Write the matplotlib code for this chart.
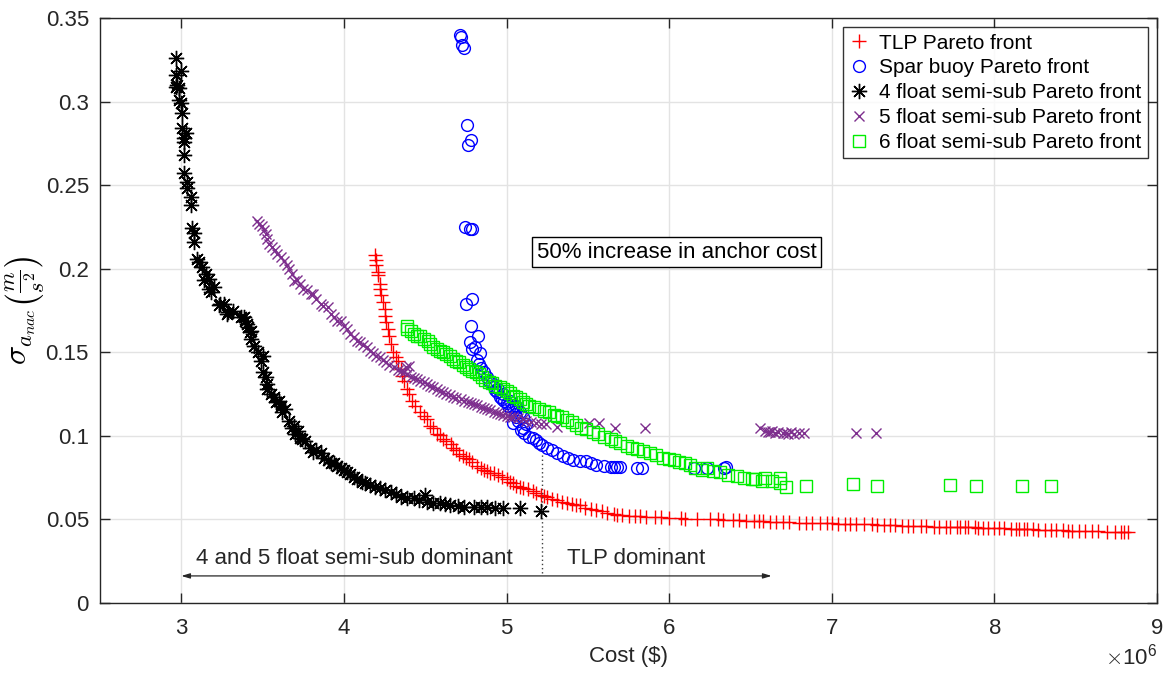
import matplotlib
matplotlib.use("Agg")
import matplotlib.pyplot as plt
from matplotlib.ticker import ScalarFormatter, FormatStrFormatter

plt.rcParams['font.family'] = ['Liberation Sans', 'DejaVu Sans']
plt.rcParams['mathtext.fontset'] = 'cm'

# ---------------- data (cost in millions of $, sigma in m/s^2) ----------------
tlp_cost = [4.19, 4.20, 4.20, 4.21, 4.21, 4.22, 4.22, 4.23, 4.24, 4.25,
            4.25, 4.26, 4.27, 4.28, 4.29, 4.30, 4.32, 4.33, 4.35, 4.36,
            4.37, 4.39, 4.40, 4.42, 4.44, 4.47, 4.49, 4.51, 4.53, 4.55,
            4.57, 4.59, 4.61, 4.63, 4.66, 4.67, 4.69, 4.71, 4.73, 4.75,
            4.77, 4.79, 4.82, 4.84, 4.86, 4.88, 4.90, 4.92, 4.95, 4.97,
            5.00, 5.02, 5.04, 5.06, 5.08, 5.10, 5.13, 5.16, 5.18, 5.21,
            5.23, 5.25, 5.28, 5.31, 5.34, 5.37, 5.40, 5.43, 5.45, 5.48,
            5.52, 5.55, 5.59, 5.62, 5.66, 5.68, 5.71, 5.75, 5.79, 5.82,
            5.86, 5.91, 5.95, 6.00, 6.07, 6.10, 6.17, 6.25, 6.30, 6.33,
            6.39, 6.43, 6.47, 6.52, 6.55, 6.58, 6.62, 6.66, 6.70, 6.74,
            6.80, 6.84, 6.88, 6.93, 6.97, 7.00, 7.04, 7.08, 7.11, 7.15,
            7.20, 7.25, 7.28, 7.32, 7.36, 7.39, 7.43, 7.47, 7.50, 7.55,
            7.58, 7.63, 7.66, 7.70, 7.73, 7.77, 7.79, 7.82, 7.84, 7.88,
            7.90, 7.93, 7.96, 8.00, 8.03, 8.06, 8.10, 8.13, 8.15, 8.18,
            8.20, 8.24, 8.27, 8.31, 8.35, 8.38, 8.42, 8.45, 8.48, 8.52,
            8.56, 8.60, 8.64, 8.69, 8.74, 8.78, 8.80, 8.82]
tlp_sigma = [0.208, 0.205, 0.202, 0.198, 0.196, 0.191, 0.188, 0.184, 0.180, 0.176,
             0.172, 0.168, 0.164, 0.160, 0.155, 0.150, 0.147, 0.145, 0.140, 0.136,
             0.133, 0.128, 0.125, 0.121, 0.118, 0.114, 0.112, 0.110, 0.106, 0.105,
             0.101, 0.1005, 0.098, 0.097, 0.095, 0.093, 0.0915, 0.089, 0.088, 0.0865,
             0.086, 0.0845, 0.082, 0.081, 0.0795, 0.079, 0.078, 0.0776, 0.0765, 0.0756,
             0.074, 0.0725, 0.0716, 0.070, 0.0695, 0.0688, 0.068, 0.0672, 0.066, 0.0648,
             0.064, 0.0636, 0.0625, 0.0616, 0.0605, 0.060, 0.0592, 0.0586, 0.0585, 0.057,
             0.0565, 0.0558, 0.055, 0.054, 0.053, 0.0528, 0.0525, 0.0522, 0.052, 0.052,
             0.0516, 0.0515, 0.0512, 0.051, 0.051, 0.0505, 0.050, 0.050, 0.050, 0.0497,
             0.0496, 0.0495, 0.0493, 0.049, 0.049, 0.0488, 0.0486, 0.0484, 0.0483, 0.0482,
             0.048, 0.048, 0.0478, 0.0477, 0.0476, 0.0476, 0.0475, 0.0474, 0.0474, 0.0472,
             0.0471, 0.047, 0.0468, 0.0467, 0.0466, 0.0464, 0.0463, 0.0462, 0.046, 0.046,
             0.0458, 0.0457, 0.0456, 0.0455, 0.0455, 0.0454, 0.0454, 0.0453, 0.0452, 0.0452,
             0.0451, 0.045, 0.045, 0.0448, 0.0447, 0.0446, 0.0445, 0.0444, 0.0443, 0.0442,
             0.0441, 0.044, 0.0439, 0.0438, 0.0437, 0.0436, 0.0434, 0.0433, 0.0432, 0.0431,
             0.043, 0.0429, 0.0428, 0.0427, 0.0426, 0.0425, 0.0424, 0.0423]

spar_cost = [4.713, 4.723, 4.729, 4.737, 4.754, 4.779, 4.762, 4.744, 4.775, 4.785,
             4.750, 4.790, 4.780, 4.826, 4.775, 4.805, 4.790, 4.836, 4.816, 4.830,
             4.846, 4.860, 4.877, 4.890, 4.908, 4.920, 4.928, 4.940, 4.950, 4.959,
             4.970, 4.980, 4.985, 5.000, 5.010, 5.020, 5.030, 5.040, 5.050, 5.060,
             5.060, 5.080, 5.040, 5.070, 5.100, 5.090, 5.100, 5.110, 5.120, 5.140,
             5.160, 5.180, 5.200, 5.220, 5.250, 5.280, 5.310, 5.350, 5.380, 5.410,
             5.450, 5.490, 5.520, 5.550, 5.600, 5.640, 5.660, 5.680, 5.700, 5.800,
             5.830, 6.150, 6.230, 6.340, 6.350]
spar_sigma = [0.340, 0.3385, 0.334, 0.332, 0.286, 0.277, 0.274, 0.225, 0.224, 0.2236,
              0.179, 0.182, 0.166, 0.160, 0.156, 0.153, 0.152, 0.1497, 0.1453, 0.143,
              0.1404, 0.138, 0.1354, 0.133, 0.1314, 0.129, 0.1275, 0.126, 0.128, 0.1235,
              0.122, 0.125, 0.121, 0.1195, 0.118, 0.121, 0.1156, 0.1175, 0.113, 0.118,
              0.111, 0.114, 0.1075, 0.109, 0.111, 0.1036, 0.105, 0.102, 0.107, 0.0996,
              0.0985, 0.0976, 0.096, 0.0946, 0.093, 0.0917, 0.090, 0.0877, 0.0865, 0.0857,
              0.085, 0.0847, 0.084, 0.0827, 0.0822, 0.0816, 0.0815, 0.0815, 0.0815, 0.081,
              0.081, 0.0805, 0.081, 0.081, 0.0815]

semi4_cost = [2.965, 2.996, 2.965, 2.975, 2.965, 2.986, 2.986, 2.996, 3.006, 3.006,
              3.027, 3.016, 3.016, 3.016, 3.016, 3.037, 3.037, 3.057, 3.057, 3.068,
              3.078, 3.078, 3.098, 3.109, 3.129, 3.150, 3.172, 3.140, 3.200, 3.172,
              3.180, 3.230, 3.240, 3.260, 3.280, 3.290, 3.320, 3.370, 3.385, 3.390,
              3.406, 3.410, 3.420, 3.426, 3.430, 3.450, 3.470, 3.500, 3.490, 3.500,
              3.520, 3.530, 3.530, 3.550, 3.570, 3.580, 3.600, 3.610, 3.620, 3.640,
              3.660, 3.680, 3.690, 3.700, 3.720, 3.730, 3.740, 3.760, 3.790, 3.810,
              3.830, 3.860, 3.880, 3.900, 3.920, 3.940, 3.960, 3.980, 4.000, 4.020,
              4.040, 4.060, 4.080, 4.110, 4.130, 4.160, 4.190, 4.220, 4.250, 4.290,
              4.320, 4.350, 4.390, 4.430, 4.460, 4.500, 4.510, 4.550, 4.590, 4.620,
              4.650, 4.700, 4.740, 4.800, 4.840, 4.880, 4.930, 4.980, 5.080, 5.210]
semi4_sigma = [0.3258, 0.3183, 0.3159, 0.310, 0.309, 0.308, 0.301, 0.299, 0.293, 0.284,
               0.281, 0.278, 0.276, 0.268, 0.257, 0.252, 0.248, 0.243, 0.238, 0.2246,
               0.2216, 0.2157, 0.2058, 0.2038, 0.2008, 0.1968, 0.1938, 0.193, 0.189, 0.1878,
               0.186, 0.178, 0.179, 0.179, 0.173, 0.174, 0.175, 0.171, 0.171, 0.169,
               0.167, 0.165, 0.162, 0.163, 0.158, 0.154, 0.150, 0.148, 0.145, 0.138,
               0.135, 0.131, 0.128, 0.125, 0.123, 0.120, 0.121, 0.118, 0.114, 0.116,
               0.109, 0.105, 0.106, 0.101, 0.103, 0.099, 0.098, 0.097, 0.093, 0.0905,
               0.0915, 0.0895, 0.087, 0.0855, 0.084, 0.0835, 0.082, 0.0805, 0.0795, 0.0785,
               0.077, 0.0755, 0.074, 0.0726, 0.0715, 0.0706, 0.0695, 0.0687, 0.0675, 0.0667,
               0.065, 0.0637, 0.063, 0.0627, 0.0615, 0.0647, 0.0607, 0.060, 0.0597, 0.059,
               0.0587, 0.058, 0.0573, 0.0573, 0.0573, 0.0573, 0.057, 0.0567, 0.0567, 0.055]

semi5_cost = [3.467, 3.480, 3.498, 3.510, 3.518, 3.530, 3.539, 3.560, 3.575, 3.590,
              3.610, 3.630, 3.650, 3.665, 3.680, 3.690, 3.710, 3.730, 3.750, 3.770,
              3.795, 3.810, 3.830, 3.857, 3.870, 3.900, 3.918, 3.940, 3.959, 3.980,
              4.000, 4.020, 4.040, 4.060, 4.080, 4.100, 4.120, 4.140, 4.160, 4.180,
              4.200, 4.220, 4.240, 4.260, 4.280, 4.310, 4.330, 4.350, 4.370, 4.390,
              4.410, 4.430, 4.450, 4.470, 4.490, 4.510, 4.530, 4.550, 4.570, 4.590,
              4.610, 4.630, 4.650, 4.670, 4.690, 4.720, 4.740, 4.760, 4.780, 4.800,
              4.820, 4.840, 4.860, 4.880, 4.900, 4.920, 4.940, 4.960, 4.980, 5.000,
              5.020, 5.040, 5.070, 5.100, 5.120, 5.150, 5.180, 5.210, 5.240, 5.310,
              4.400, 4.380, 5.510, 5.570, 5.670, 5.850, 6.560, 6.590, 6.610, 6.620,
              6.630, 6.650, 6.670, 6.700, 6.720, 6.730, 6.750, 6.770, 6.800, 6.830,
              7.150, 7.270]
semi5_sigma = [0.2286, 0.227, 0.2256, 0.223, 0.2206, 0.218, 0.2147, 0.213, 0.211, 0.2087,
               0.207, 0.2048, 0.202, 0.200, 0.1968, 0.1927, 0.1935, 0.1909, 0.188, 0.187,
               0.1849, 0.1847, 0.182, 0.179, 0.1775, 0.1768, 0.173, 0.171, 0.169, 0.1688,
               0.166, 0.164, 0.161, 0.1589, 0.157, 0.156, 0.1545, 0.153, 0.151, 0.1495,
               0.148, 0.147, 0.1455, 0.144, 0.1425, 0.141, 0.1395, 0.139, 0.138, 0.137,
               0.1355, 0.1345, 0.134, 0.133, 0.132, 0.131, 0.130, 0.129, 0.128, 0.127,
               0.126, 0.125, 0.1243, 0.1235, 0.1228, 0.122, 0.121, 0.1202, 0.1195, 0.119,
               0.1182, 0.1175, 0.1165, 0.116, 0.1152, 0.1145, 0.1138, 0.113, 0.1125, 0.112,
               0.1115, 0.111, 0.1105, 0.110, 0.109, 0.108, 0.1078, 0.1072, 0.107, 0.1054,
               0.142, 0.141, 0.1075, 0.1075, 0.1046, 0.1046, 0.1046, 0.103, 0.1025, 0.1022,
               0.103, 0.102, 0.1025, 0.1015, 0.102, 0.101, 0.1025, 0.1012, 0.1015, 0.1015,
               0.1016, 0.1016]

semi6_cost = [4.385, 4.390, 4.415, 4.430, 4.450, 4.466, 4.490, 4.517, 4.530, 4.548,
              4.570, 4.590, 4.610, 4.630, 4.650, 4.670, 4.690, 4.710, 4.730, 4.750,
              4.770, 4.790, 4.810, 4.830, 4.850, 4.870, 4.890, 4.910, 4.930, 4.960,
              4.980, 5.000, 5.020, 5.040, 5.060, 5.080, 5.100, 5.120, 5.140, 5.170,
              5.200, 5.230, 5.260, 5.290, 5.310, 5.340, 5.370, 5.400, 5.430, 5.460,
              5.490, 5.530, 5.560, 5.600, 5.640, 5.670, 5.700, 5.740, 5.770, 5.800,
              5.840, 5.880, 5.920, 5.960, 6.000, 6.030, 6.060, 6.100, 6.130, 6.160,
              6.200, 6.230, 6.270, 6.310, 6.360, 6.420, 6.460, 6.510, 6.530, 6.570,
              6.590, 6.630, 6.680, 6.680, 6.720, 6.840, 7.130, 7.280, 7.730, 7.890,
              8.170, 8.350]
semi6_sigma = [0.166, 0.164, 0.163, 0.161, 0.160, 0.1595, 0.158, 0.157, 0.155, 0.153,
               0.152, 0.151, 0.150, 0.149, 0.1475, 0.146, 0.145, 0.144, 0.1425, 0.141,
               0.140, 0.139, 0.138, 0.137, 0.135, 0.1335, 0.132, 0.1315, 0.130, 0.129,
               0.128, 0.127, 0.1255, 0.124, 0.123, 0.122, 0.1205, 0.119, 0.118, 0.117,
               0.116, 0.115, 0.114, 0.1125, 0.112, 0.111, 0.1095, 0.108, 0.1065, 0.105,
               0.104, 0.1025, 0.101, 0.0995, 0.098, 0.097, 0.0955, 0.094, 0.093, 0.092,
               0.091, 0.0895, 0.0885, 0.087, 0.086, 0.0855, 0.0845, 0.0835, 0.0825, 0.081,
               0.0798, 0.0805, 0.0788, 0.0786, 0.0768, 0.0762, 0.075, 0.0742, 0.074, 0.0728,
               0.0745, 0.073, 0.0748, 0.0718, 0.0694, 0.0702, 0.0712, 0.0698, 0.0706, 0.0702,
               0.0702, 0.0698]

legend_labels = ['TLP Pareto front', 'Spar buoy Pareto front',
                 '4 float semi-sub Pareto front', '5 float semi-sub Pareto front',
                 '6 float semi-sub Pareto front']
x_ticks = [3, 4, 5, 6, 7, 8, 9]
y_ticks = [0, 0.05, 0.1, 0.15, 0.2, 0.25, 0.3, 0.35]

M = 1e6
def scale(v):
    return [c * M for c in v]

# ---------------- figure ----------------
fig = plt.figure(figsize=(11.74, 6.75), dpi=100)
ax = fig.add_axes([100 / 1174, 72 / 675, 1057 / 1174, 585 / 675])

ax.plot(scale(tlp_cost), tlp_sigma, linestyle='none', marker='+', ms=10.5, mew=1.0,
        color='#ff0000', label=legend_labels[0])
ax.plot(scale(spar_cost), spar_sigma, linestyle='none', marker='o', ms=8.5, mew=1.0,
        mfc='none', color='#0000ff', label=legend_labels[1])
ax.plot(scale(semi4_cost), semi4_sigma, linestyle='none', marker=(8, 2, 0), ms=11, mew=1.0,
        color='#000000', label=legend_labels[2])
ax.plot(scale(semi5_cost), semi5_sigma, linestyle='none', marker='x', ms=7.5, mew=1.0,
        color='#7e2f8e', label=legend_labels[3])
ax.plot(scale(semi6_cost), semi6_sigma, linestyle='none', marker='s', ms=8, mew=1.0,
        mfc='none', color='#00ee00', label=legend_labels[4])

ax.set_xlim(2.5 * M, 9 * M)
ax.set_ylim(0, 0.35)
ax.set_xticks([t * M for t in x_ticks])
ax.set_yticks(y_ticks)
fmt = ScalarFormatter(useMathText=True)
fmt.set_powerlimits((6, 6))
ax.xaxis.set_major_formatter(fmt)
ax.yaxis.set_major_formatter(FormatStrFormatter('%g'))
ax.xaxis.get_offset_text().set_fontsize(16)
ax.xaxis.get_offset_text().set_color('#262626')

ax.grid(True, color='#e3e3e3', linewidth=1.0)
ax.set_axisbelow(True)
for s in ax.spines.values():
    s.set_color('#262626')
    s.set_linewidth(1.0)
ax.tick_params(direction='in', length=7, width=1.0, top=True, right=True,
               labelsize=16, colors='#262626', pad=8)
ax.tick_params(axis='x', pad=11)

ax.set_xlabel(r'Cost (\$)', fontsize=16, color='#262626', labelpad=5)
ylab = ax.set_ylabel(r'$\sigma_{a_{nac}}\left(\frac{m}{s^2}\right)$', fontsize=23,
                     color='black', va='center')
ax.yaxis.set_label_coords(-0.071, 0.5)

leg = ax.legend(loc='upper right', fontsize=15, numpoints=1, handlelength=1.0,
                handletextpad=0.45, borderpad=0.3, labelspacing=0.28,
                borderaxespad=0.45, frameon=True, fancybox=False, edgecolor='black')
leg.get_frame().set_linewidth(1.0)

# annotations
ax.text(6.045 * M, 0.21, '50% increase in anchor cost', ha='center', va='center',
        fontsize=16, color='black',
        bbox=dict(boxstyle='square,pad=0.2', fc='white', ec='black', lw=1.0))
ax.text(3.09 * M, 0.0265, '4 and 5 float semi-sub dominant', ha='left', va='center',
        fontsize=16, color='#262626')
ax.text(5.37 * M, 0.0265, 'TLP dominant', ha='left', va='center',
        fontsize=16, color='#262626')
ax.annotate('', xy=(3.0 * M, 0.0162), xytext=(6.63 * M, 0.0162),
            arrowprops=dict(arrowstyle='<|-|>,head_length=0.5,head_width=0.15',
                            color='#262626', lw=0.9, shrinkA=0, shrinkB=0))
ax.plot([5.22 * M, 5.22 * M], [0.018, 0.09], linestyle=(0, (1, 2)), color='#404040', lw=1.0)

fig.savefig('out.png', dpi=100)
